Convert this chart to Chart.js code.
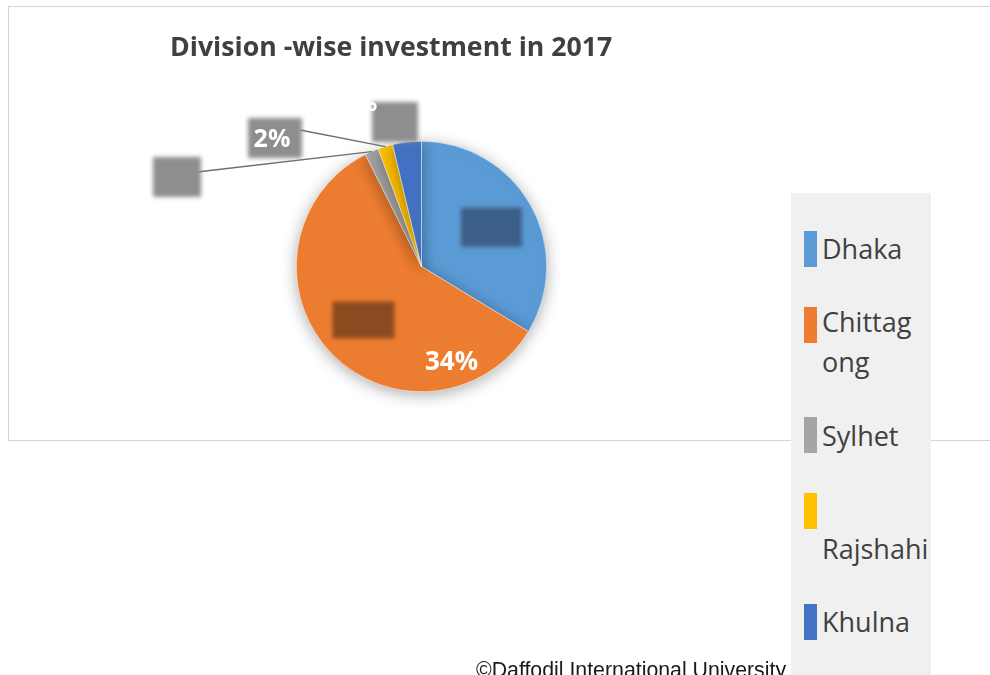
<!DOCTYPE html>
<html>
<head>
<meta charset="utf-8">
<script src="https://cdn.jsdelivr.net/npm/chart.js@4.4.1/dist/chart.umd.min.js"></script>
<style>
  html, body { margin: 0; padding: 0; background: #fff; }
  body { width: 990px; height: 675px; position: relative; overflow: hidden; }
  #frame { position: absolute; left: 8px; top: 6px; width: 1000px; height: 433px; border: 1.5px solid #d4d4d4; }
  #wrap { position: absolute; left: 0; top: 0; width: 990px; height: 675px; }
  #legend { position: absolute; left: 791px; top: 193px; width: 140px; height: 490px; background: #f0f0f0;
            font-family: "Open Sans", sans-serif; font-size: 27px; color: #404040; overflow: hidden; }
  .sw { position: absolute; width: 13px; height: 36px; }
  .txt { position: absolute; line-height: 40px; white-space: nowrap; }
  #copy { position: absolute; left: 476px; top: 658px; font-family: "Liberation Sans", Arial, sans-serif;
          font-size: 21.3px; color: #1a1a1a; white-space: nowrap; }
</style>
</head>
<body>
<div id="frame"></div>
<div id="wrap"><canvas id="pie" width="990" height="675"></canvas></div>
<div id="legend"></div>
<div id="copy">©Daffodil International University</div>
<script>
const divisions = ['Dhaka', 'Chittagong', 'Sylhet', 'Rajshahi', 'Khulna'];
const investmentShare = [33.7, 58.9, 1.8, 1.9, 3.7];
const sliceColors = ['#5B9BD5', '#ED7D31', '#A5A5A5', '#FFC000', '#4472C4'];
const shownLabels = ['', '34%', '', '2%', '°'];

// shadow under the pie
const pieShadow = {
  id: 'pieShadow',
  beforeDatasetsDraw(chart) {
    const ctx = chart.ctx;
    ctx.save();
    ctx.shadowColor = 'rgba(0,0,0,0.33)';
    ctx.shadowBlur = 16;
    ctx.shadowOffsetY = 3;
  },
  afterDatasetsDraw(chart) {
    chart.ctx.restore();
  }
};

// title, blurred label boxes, leader lines, visible labels
const pieDecor = {
  id: 'pieDecor',
  afterDraw(chart) {
    const ctx = chart.ctx;
    const arcs = chart.getDatasetMeta(0).data;
    const cx = arcs[0].x, cy = arcs[0].y, R = arcs[0].outerRadius;
    const mid = (a) => (a.startAngle + a.endAngle) / 2;
    const at = (a, f) => ({ x: cx + Math.cos(mid(a)) * R * f, y: cy + Math.sin(mid(a)) * R * f });

    ctx.save();
    ctx.fillStyle = '#404040';
    ctx.font = 'bold 26.7px "Open Sans", sans-serif';
    ctx.textBaseline = 'middle';
    ctx.fillText('Division -wise investment in 2017', 170, 48);
    ctx.restore();

    // leader lines
    ctx.save();
    ctx.strokeStyle = '#6e6e6e';
    ctx.lineWidth = 1.3;
    const s = at(arcs[2], 1.0);
    ctx.beginPath(); ctx.moveTo(197, 172); ctx.lineTo(s.x, s.y); ctx.stroke();
    const r = at(arcs[3], 1.0);
    ctx.beginPath(); ctx.moveTo(300, 130); ctx.lineTo(r.x, r.y); ctx.stroke();
    ctx.restore();

    const boxes = [
      { c: at(arcs[0], 0.64), w: 61, h: 39, col: '#3b5f86' },
      { c: at(arcs[1], 0.63), w: 62, h: 37, col: '#8b4a1f' },
      { c: { x: 177, y: 177 }, w: 48, h: 40, col: '#8e8e8e' },
      { c: { x: 275, y: 138 }, w: 54, h: 40, col: '#8e8e8e' },
      { c: { x: 395, y: 122 }, w: 46, h: 40, col: '#8e8e8e' }
    ];
    ctx.save();
    ctx.filter = 'blur(2px)';
    boxes.forEach(b => {
      ctx.fillStyle = b.col;
      ctx.fillRect(b.c.x - b.w / 2, b.c.y - b.h / 2, b.w, b.h);
    });
    ctx.restore();

    ctx.save();
    ctx.fillStyle = '#ffffff';
    ctx.textAlign = 'center';
    ctx.textBaseline = 'middle';
    ctx.font = 'bold 26px "Open Sans", sans-serif';
    ctx.fillText(shownLabels[1], cx + 30, cy + 96);
    ctx.font = 'bold 25px "Open Sans", sans-serif';
    ctx.fillText(shownLabels[3], 272, 140);
    ctx.font = 'bold 26px "Open Sans", sans-serif';
    ctx.fillText(shownLabels[4], 372, 114);
    ctx.restore();
  }
};

const chart = new Chart(document.getElementById('pie'), {
  type: 'pie',
  data: {
    labels: divisions,
    datasets: [{
      data: investmentShare,
      backgroundColor: sliceColors,
      borderColor: '#ffffff',
      borderWidth: 0.5,
      hoverOffset: 0,
      offset: 0
    }]
  },
  options: {
    responsive: false,
    animation: false,
    events: [],
    layout: { padding: { left: 296, right: 443, top: 141, bottom: 283 } },
    plugins: {
      legend: { display: false },
      tooltip: { enabled: false }
    }
  },
  plugins: [pieShadow, pieDecor]
});

// legend built from the chart's own labels and colours
const legendEl = document.getElementById('legend');
const rows = [
  { sw: 38, lines: [{ t: 'Dhaka', y: 56 }] },
  { sw: 114, lines: [{ t: 'Chittag', y: 129 }, { t: 'ong', y: 169 }] },
  { sw: 224, lines: [{ t: 'Sylhet', y: 243 }] },
  { sw: 300, lines: [{ t: 'Rajshahi', y: 356 }] },
  { sw: 411, lines: [{ t: 'Khulna', y: 429 }] }
];
chart.data.labels.forEach((lab, i) => {
  const row = rows[i];
  const sw = document.createElement('div');
  sw.className = 'sw';
  sw.style.left = '13px';
  sw.style.top = row.sw + 'px';
  sw.style.background = chart.data.datasets[0].backgroundColor[i];
  legendEl.appendChild(sw);
  row.lines.forEach(l => {
    const t = document.createElement('div');
    t.className = 'txt';
    t.style.left = '31px';
    t.style.top = (l.y - 20) + 'px';
    t.textContent = l.t;
    legendEl.appendChild(t);
  });
});
</script>
</body>
</html>
